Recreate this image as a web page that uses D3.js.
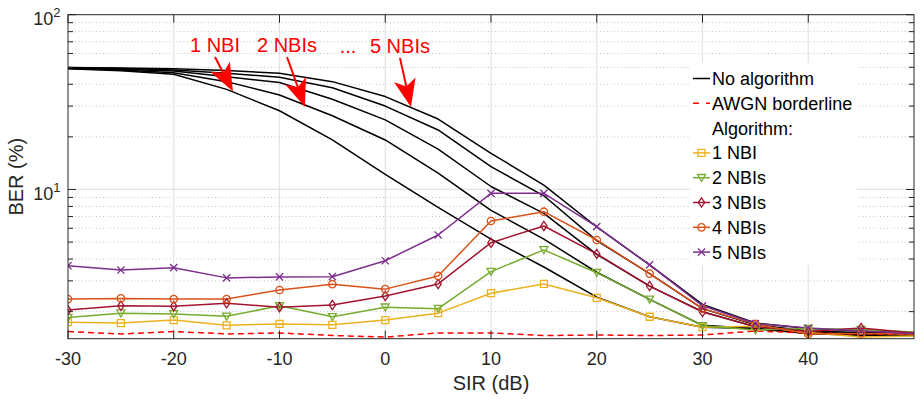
<!DOCTYPE html>
<html>
<head>
<meta charset="utf-8">
<script src="https://cdn.jsdelivr.net/npm/d3@7/dist/d3.min.js"></script>
<style>
  html, body { margin: 0; padding: 0; background: #fff; }
  svg { display: block; font-family: "Liberation Sans", Arial, Helvetica, sans-serif; }
</style>
</head>
<body>
<svg id="chart" width="921" height="399"></svg>
<script>
// SIR sweep (dB)
const sir = [-30, -25, -20, -15, -10, -5, 0, 5, 10, 15, 20, 25, 30, 35, 40, 45, 50];

// BER (%) without the algorithm, for 1..5 narrowband interferers
const noAlg1 = [49.0, 47.8, 45.6, 37.4, 28.2, 19.2, 12.2, 7.9, 5.2, 3.6, 2.42, 1.87, 1.63, 1.60, 1.50, 1.46, 1.46];
const noAlg2 = [49.2, 48.3, 46.6, 41.4, 34.7, 26.4, 19.2, 12.4, 7.6, 5.2, 3.36, 2.35, 1.67, 1.60, 1.50, 1.48, 1.48];
const noAlg3 = [49.4, 48.8, 47.6, 44.2, 40.9, 32.8, 25.0, 17.0, 10.4, 7.3, 4.25, 2.80, 2.00, 1.64, 1.52, 1.50, 1.49];
const noAlg4 = [49.6, 49.2, 48.3, 46.2, 43.9, 38.2, 30.0, 21.9, 13.5, 9.2, 5.10, 3.30, 2.08, 1.68, 1.55, 1.52, 1.50];
const noAlg5 = [49.8, 49.6, 49.1, 47.9, 46.2, 41.4, 34.0, 25.3, 16.1, 10.6, 6.10, 3.70, 2.20, 1.72, 1.60, 1.55, 1.52];

// AWGN-only reference
const awgn = [1.54, 1.49, 1.54, 1.49, 1.51, 1.46, 1.43, 1.51, 1.51, 1.46, 1.47, 1.46, 1.47, 1.55, 1.51, 1.49, 1.48];

// BER (%) with the algorithm
const alg1 = [1.74, 1.72, 1.79, 1.67, 1.70, 1.68, 1.79, 1.96, 2.55, 2.88, 2.40, 1.87, 1.63, 1.65, 1.52, 1.43, 1.45];
const alg2 = [1.85, 1.96, 1.94, 1.88, 2.16, 1.87, 2.12, 2.08, 3.39, 4.51, 3.34, 2.35, 1.66, 1.57, 1.60, 1.58, 1.53];
const alg3 = [2.04, 2.16, 2.15, 2.23, 2.12, 2.18, 2.46, 2.88, 4.96, 6.18, 4.28, 2.80, 1.99, 1.64, 1.54, 1.61, 1.51];
const alg4 = [2.36, 2.38, 2.36, 2.36, 2.66, 2.87, 2.69, 3.20, 6.60, 7.46, 5.14, 3.30, 2.08, 1.70, 1.49, 1.50, 1.49];
const alg5 = [3.66, 3.46, 3.57, 3.12, 3.16, 3.17, 3.91, 5.49, 9.50, 9.50, 6.13, 3.70, 2.16, 1.71, 1.61, 1.55, 1.50];

const algNames = ["1 NBI", "2 NBIs", "3 NBIs", "4 NBIs", "5 NBIs"];
const algColors = ["#EDB120", "#77AC30", "#A2142F", "#D95319", "#7E2F8E"];
const algMarkers = ["square", "triangleDown", "diamond", "circle", "cross"];

// axis ticks
const xTicks = [-30, -20, -10, 0, 10, 20, 30, 40];
const yMajor = [10, 100];
const yMajorExp = ["1", "2"];
const yMinor = [2, 3, 4, 5, 6, 7, 8, 9, 20, 30, 40, 50, 60, 70, 80, 90];

// arrow callouts: label, shaft start and tip in data units
const callouts = [
  { label: "1 NBI",  x0: -16.1, y0: 57.3, x1: -14.4, y1: 36.3 },
  { label: "2 NBIs", x0: -9.29, y0: 57.3, x1: -7.59, y1: 29.6 },
  { label: "5 NBIs", x0: 1.39,  y0: 56.6, x1: 2.43,  y1: 29.6 }
];

const svg = d3.select("#chart");
const m = { left: 68, right: 914, top: 14.7, bottom: 338.7 };

const x = d3.scaleLinear().domain([-30, 50]).range([m.left, m.right]);
const y = d3.scaleLog().domain([1.4, 100]).range([m.bottom, m.top]);

const axisColor = "#262626";

svg.append("defs").append("clipPath").attr("id", "plotClip")
  .append("rect").attr("x", m.left).attr("y", m.top)
  .attr("width", m.right - m.left).attr("height", m.bottom - m.top);

// grid
const grid = svg.append("g");
grid.selectAll(".ymin").data(yMinor).join("line")
  .attr("x1", m.left).attr("x2", m.right)
  .attr("y1", d => y(d)).attr("y2", d => y(d))
  .attr("stroke", "#c4c4c4").attr("stroke-width", 1).attr("stroke-dasharray", "1,2.5");
grid.selectAll(".xg").data(xTicks.filter(d => d > -30)).join("line")
  .attr("x1", d => x(d)).attr("x2", d => x(d))
  .attr("y1", m.top).attr("y2", m.bottom)
  .attr("stroke", "#e3e3e3").attr("stroke-width", 1.2);
grid.selectAll(".yg").data([10]).join("line")
  .attr("x1", m.left).attr("x2", m.right)
  .attr("y1", d => y(d)).attr("y2", d => y(d))
  .attr("stroke", "#e3e3e3").attr("stroke-width", 1.2);

// series
const plot = svg.append("g").attr("clip-path", "url(#plotClip)");
const lineGen = vals => d3.line().x((d, i) => x(sir[i])).y(d => y(d))(vals);

[noAlg1, noAlg2, noAlg3, noAlg4, noAlg5].forEach(vals => {
  plot.append("path").attr("d", lineGen(vals))
    .attr("fill", "none").attr("stroke", "#000").attr("stroke-width", 1.5)
    .attr("stroke-linejoin", "round");
});

plot.append("path").attr("d", lineGen(awgn))
  .attr("fill", "none").attr("stroke", "#FF0000").attr("stroke-width", 1.5)
  .attr("stroke-dasharray", "6,4");

function markerPath(kind) {
  switch (kind) {
    case "square": return "M-3.5,-3.5H3.5V3.5H-3.5Z";
    case "triangleDown": return "M-4,-3.2L4,-3.2L0,3.8Z";
    case "diamond": return "M0,-4.6L3.2,0L0,4.6L-3.2,0Z";
    case "circle": return "M3.7,0A3.7,3.7 0 1,1 -3.7,0A3.7,3.7 0 1,1 3.7,0Z";
    case "cross": return "M-3.6,-3.6L3.6,3.6M-3.6,3.6L3.6,-3.6";
  }
}

const algSeries = [alg1, alg2, alg3, alg4, alg5];
algSeries.forEach((vals, k) => {
  plot.append("path").attr("d", lineGen(vals))
    .attr("fill", "none").attr("stroke", algColors[k]).attr("stroke-width", 1.5)
    .attr("stroke-linejoin", "round");
});
algSeries.forEach((vals, k) => {
  plot.selectAll(null).data(vals.map((v, i) => [sir[i], v]).filter(d => d[0] < 50)).join("path")
    .attr("transform", d => `translate(${x(d[0])},${y(d[1])})`)
    .attr("d", markerPath(algMarkers[k]))
    .attr("fill", "none").attr("stroke", algColors[k]).attr("stroke-width", 1.3);
});

// axes box and ticks
const axes = svg.append("g").attr("stroke", axisColor).attr("stroke-width", 1);
axes.append("rect").attr("x", m.left).attr("y", m.top)
  .attr("width", m.right - m.left).attr("height", m.bottom - m.top).attr("fill", "none");
xTicks.forEach(t => {
  axes.append("line").attr("x1", x(t)).attr("x2", x(t)).attr("y1", m.bottom).attr("y2", m.bottom - 8);
  axes.append("line").attr("x1", x(t)).attr("x2", x(t)).attr("y1", m.top).attr("y2", m.top + 8);
});
yMajor.forEach(t => {
  axes.append("line").attr("x1", m.left).attr("x2", m.left + 8).attr("y1", y(t)).attr("y2", y(t));
  axes.append("line").attr("x1", m.right).attr("x2", m.right - 8).attr("y1", y(t)).attr("y2", y(t));
});
yMinor.forEach(t => {
  axes.append("line").attr("x1", m.left).attr("x2", m.left + 5).attr("y1", y(t)).attr("y2", y(t));
  axes.append("line").attr("x1", m.right).attr("x2", m.right - 5).attr("y1", y(t)).attr("y2", y(t));
});

// tick labels
svg.append("g").selectAll("text").data(xTicks).join("text")
  .attr("x", d => x(d)).attr("y", 365)
  .attr("text-anchor", "middle").attr("font-size", 18).attr("fill", axisColor)
  .text(d => String(d));

yMajor.forEach((t, i) => {
  const tx = svg.append("text").attr("x", 60.5).attr("y", y(t) + 10.5)
    .attr("text-anchor", "end").attr("font-size", 18).attr("fill", axisColor);
  tx.append("tspan").text("10");
  tx.append("tspan").attr("font-size", 13).attr("dy", -8).text(yMajorExp[i]);
});

// axis titles
svg.append("text").attr("x", (m.left + m.right) / 2).attr("y", 390)
  .attr("text-anchor", "middle").attr("font-size", 20).attr("fill", axisColor)
  .text("SIR (dB)");
svg.append("text")
  .attr("transform", `translate(23,${(m.top + m.bottom) / 2}) rotate(-90)`)
  .attr("text-anchor", "middle").attr("font-size", 20).attr("fill", axisColor)
  .text("BER (%)");

// callout arrows
const ann = svg.append("g");
function drawArrow(c) {
  const sx = x(c.x0), sy = y(c.y0), tx = x(c.x1), ty = y(c.y1);
  const dx = tx - sx, dy = ty - sy, len = Math.hypot(dx, dy);
  const ux = dx / len, uy = dy / len, nx = -uy, ny = ux;
  const headLen = 28, halfW = 11, notch = 7;
  const bx = tx - ux * headLen, by = ty - uy * headLen;
  const kx = tx - ux * (headLen - notch), ky = ty - uy * (headLen - notch);
  ann.append("line").attr("x1", sx).attr("y1", sy).attr("x2", kx).attr("y2", ky)
    .attr("stroke", "#FF0000").attr("stroke-width", 2);
  ann.append("path")
    .attr("d", `M${tx},${ty}L${bx + nx * halfW},${by + ny * halfW}L${kx},${ky}L${bx - nx * halfW},${by - ny * halfW}Z`)
    .attr("fill", "#FF0000");
  ann.append("text").attr("x", sx).attr("y", sy - 4.5)
    .attr("text-anchor", "middle").attr("font-size", 20).attr("fill", "#FF0000")
    .text(c.label);
}
callouts.forEach(drawArrow);
ann.append("text").attr("x", 348).attr("y", 52.7)
  .attr("text-anchor", "middle").attr("font-size", 20).attr("fill", "#FF0000").text("...");

// legend
const lg = svg.append("g");
lg.append("rect").attr("x", 690).attr("y", 63).attr("width", 167).attr("height", 202).attr("fill", "#fff");
const rowY = i => 85 + i * 24.8;
const lx0 = 693, lx1 = 710, tx0 = 712;
const legendRows = [
  { label: "No algorithm", kind: "black" },
  { label: "AWGN borderline", kind: "awgn" },
  { label: "Algorithm:", kind: "none" }
].concat(algNames.map((n, k) => ({ label: n, kind: "alg", k })));

legendRows.forEach((r, i) => {
  const by = rowY(i), ly = by - 6.5;
  if (r.kind === "black") {
    lg.append("line").attr("x1", lx0).attr("x2", lx1).attr("y1", ly).attr("y2", ly)
      .attr("stroke", "#000").attr("stroke-width", 1.5);
  } else if (r.kind === "awgn") {
    lg.append("line").attr("x1", lx0).attr("x2", lx1).attr("y1", ly).attr("y2", ly)
      .attr("stroke", "#FF0000").attr("stroke-width", 1.5).attr("stroke-dasharray", "6,7");
  } else if (r.kind === "alg") {
    lg.append("line").attr("x1", lx0).attr("x2", lx1).attr("y1", ly).attr("y2", ly)
      .attr("stroke", algColors[r.k]).attr("stroke-width", 1.5);
    lg.append("path").attr("transform", `translate(${(lx0 + lx1) / 2},${ly})`)
      .attr("d", markerPath(algMarkers[r.k]))
      .attr("fill", "none").attr("stroke", algColors[r.k]).attr("stroke-width", 1.3);
  }
  lg.append("text").attr("x", tx0).attr("y", by).attr("font-size", 18).attr("fill", "#000")
    .text(r.label);
});
</script>
</body>
</html>
